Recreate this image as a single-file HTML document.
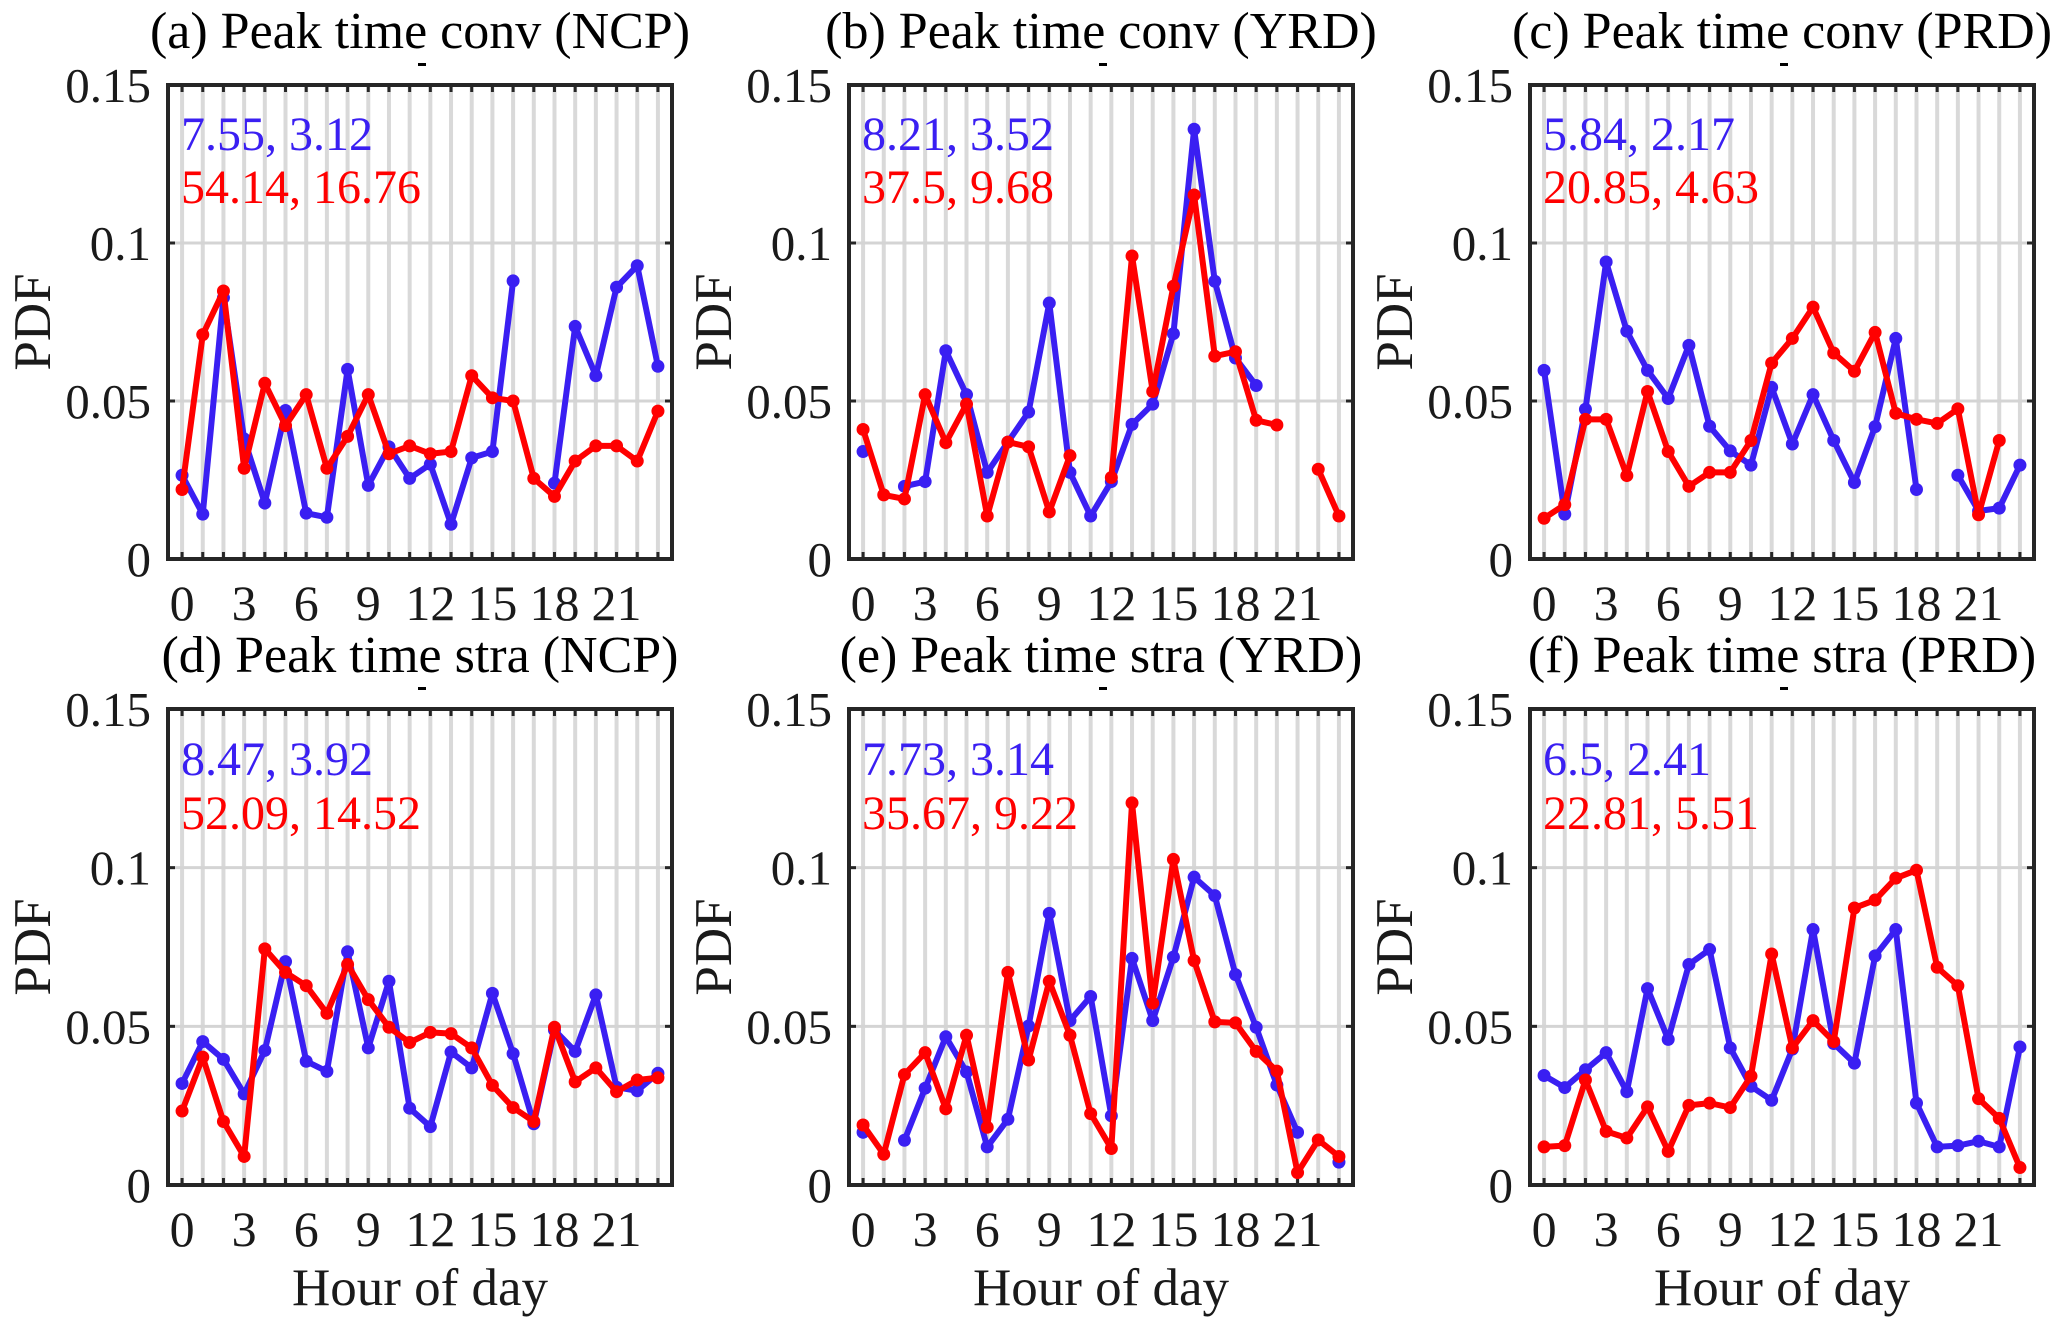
<!DOCTYPE html>
<html><head><meta charset="utf-8">
<style>
html,body{margin:0;padding:0;background:#fff;}
svg{display:block;font-family:"Liberation Serif","Times New Roman",serif;}
</style></head>
<body>
<svg id="fig" width="2067" height="1327" viewBox="0 0 2067 1327" xmlns="http://www.w3.org/2000/svg"></svg>
<script>
const hours = [0,1,2,3,4,5,6,7,8,9,10,11,12,13,14,15,16,17,18,19,20,21,22,23];
const xTickLabels = ["0","3","6","9","12","15","18","21"];
const yTickValues = [0,0.05,0.1,0.15];
const yTickLabels = ["0","0.05","0.1","0.15"];
const panelTitles = ["(a) Peak time conv (NCP)","(b) Peak time conv (YRD)","(c) Peak time conv (PRD)","(d) Peak time stra (NCP)","(e) Peak time stra (YRD)","(f) Peak time stra (PRD)"];
const blueStats = ["7.55, 3.12","8.21, 3.52","5.84, 2.17","8.47, 3.92","7.73, 3.14","6.5, 2.41"];
const redStats = ["54.14, 16.76","37.5, 9.68","20.85, 4.63","52.09, 14.52","35.67, 9.22","22.81, 5.51"];
const blueA = [0.0265,0.0142,0.0827,0.038,0.0177,0.047,0.0145,0.0132,0.060,0.0233,0.0355,0.0255,0.030,0.011,0.032,0.034,0.088,null,0.024,0.0736,0.058,0.086,0.0928,0.061];
const redA = [0.022,0.071,0.0848,0.0287,0.0556,0.0422,0.052,0.0287,0.0388,0.052,0.0333,0.0358,0.0333,0.034,0.058,0.051,0.050,0.0255,0.0198,0.031,0.0358,0.0358,0.031,0.0468];
const blueB = [0.034,null,0.023,0.0245,0.0659,0.052,0.0274,0.037,0.0465,0.081,0.0274,0.0136,0.0245,0.0426,0.049,0.0713,0.136,0.0879,0.0636,0.0549,null,null,null,null];
const redB = [0.041,0.0203,0.019,0.052,0.0368,0.049,0.0136,0.037,0.0355,0.0149,0.0327,null,0.0258,0.0959,0.053,0.0863,0.1152,0.0642,0.0656,0.0439,0.0424,null,0.0284,0.0136];
const blueC = [0.0597,0.0142,0.0474,0.094,0.0721,0.0597,0.0508,0.0676,0.042,0.0342,0.0297,0.0543,0.0364,0.052,0.0375,0.0242,0.0419,0.0698,0.022,null,0.0265,0.0152,0.0161,0.0297];
const redC = [0.0129,0.0172,0.0442,0.0442,0.0264,0.053,0.034,0.023,0.0274,0.0274,0.0375,0.062,0.0698,0.0797,0.0652,0.0594,0.0717,0.0461,0.0442,0.0429,0.0475,0.014,0.0375,null];
const blueD = [0.032,0.0452,0.0396,0.0287,0.0424,0.0704,0.039,0.0358,0.0735,0.0432,0.0642,0.0242,0.0184,0.0419,0.0369,0.0604,0.0414,0.0193,0.0488,0.0421,0.0599,0.0308,0.0297,0.0352];
const redD = [0.0233,0.0403,0.020,0.009,0.0744,0.067,0.0628,0.0541,0.0695,0.0584,0.0497,0.0449,0.0481,0.0477,0.0432,0.0314,0.0244,0.020,0.0497,0.0325,0.0369,0.0294,0.0331,0.0338];
const blueE = [0.0166,null,0.0141,0.0305,0.0467,0.0356,0.012,0.0207,0.0501,0.0856,0.0518,0.0594,0.0218,0.0714,0.0518,0.0718,0.097,0.0912,0.0663,0.0497,0.0315,0.0166,null,0.0072];
const redE = [0.0189,0.0097,0.0348,0.0417,0.024,0.0472,0.0182,0.067,0.0394,0.0642,0.0472,0.0225,0.0115,0.1204,0.0573,0.1026,0.0707,0.0514,0.0511,0.0421,0.0359,0.0039,0.0142,0.009];
const blueF = [0.0345,0.0307,0.0363,0.0417,0.0294,0.0619,0.0459,0.0695,0.0742,0.0432,0.0311,0.0267,0.0428,0.0805,0.0446,0.0384,0.0722,0.0805,0.0258,0.012,0.0124,0.0138,0.012,0.0435];
const redF = [0.012,0.0124,0.0331,0.0169,0.0148,0.0246,0.0106,0.0251,0.0258,0.0244,0.0343,0.0728,0.0432,0.0518,0.0452,0.0873,0.0898,0.0967,0.0992,0.0686,0.0628,0.0272,0.021,0.0055];

const NS = "http://www.w3.org/2000/svg";
const svg = document.getElementById("fig");
function mk(tag, attrs, parent){
  const e = document.createElementNS(NS, tag);
  for (const k in attrs) e.setAttribute(k, attrs[k]);
  (parent||svg).appendChild(e);
  return e;
}
const BLUE = "#3a1ff2", RED = "#ff0000";
const colLeft = [168, 849, 1530];
const rowTop = [85, 709];
const rowH = [474, 476];
const W = 504;
const XMIN = -0.68, XMAX = 23.68, YMAX = 0.15;
const panels = [[blueA,redA],[blueB,redB],[blueC,redC],[blueD,redD],[blueE,redE],[blueF,redF]];
const letters = ["a","b","c","d","e","f"];

panels.forEach((series, i) => {
  const r = Math.floor(i/3), c = i%3;
  const L = colLeft[c], T = rowTop[r], H = rowH[r];
  const xs = h => L + (h - XMIN) / (XMAX - XMIN) * W;
  const ys = v => T + H - v / YMAX * H;
  const g = mk("g", {});
  
  
  hours.forEach(h => {
    const ln = mk("line", {x1:xs(h), x2:xs(h), y1:T, y2:T+H, stroke:"#d9d9d9", "stroke-width":4}, g);
    
    
  });
  yTickValues.slice(1,3).forEach(v => {
    const ln = mk("line", {x1:L, x2:L+W, y1:ys(v), y2:ys(v), stroke:"#d4d4d4", "stroke-width":3}, g);
    
    
  });
  hours.forEach(h => {
    mk("line", {x1:xs(h), x2:xs(h), y1:T+H, y2:T+H-7, stroke:"#262626", "stroke-width":3}, g);
    mk("line", {x1:xs(h), x2:xs(h), y1:T, y2:T+7, stroke:"#262626", "stroke-width":3}, g);
  });
  yTickValues.forEach((v, k) => {
    mk("line", {x1:L, x2:L+7, y1:ys(v), y2:ys(v), stroke:"#262626", "stroke-width":3}, g);
    mk("line", {x1:L+W, x2:L+W-7, y1:ys(v), y2:ys(v), stroke:"#262626", "stroke-width":3}, g);
    const t = mk("text", {x:L-17, y:ys(v)+17, "text-anchor":"end", "font-size":49, fill:"#1a1a1a"}, g);
    t.textContent = yTickLabels[k];
    
    
  });
  xTickLabels.forEach(lab => {
    const t = mk("text", {x:xs(+lab), y:T+H+61, "text-anchor":"middle", "font-size":50, fill:"#1a1a1a"}, g);
    t.textContent = lab;
    
    
  });
  series.forEach((vals, s) => {
    const col = s === 0 ? BLUE : RED;
    let segs = [], cur = [];
    vals.forEach((v, h) => {
      if (v === null) { if (cur.length) segs.push(cur); cur = []; }
      else cur.push([xs(hours[h]), ys(v)]);
    });
    if (cur.length) segs.push(cur);
    segs.forEach(seg => {
      if (seg.length > 1) {
        const p = mk("polyline", {points: seg.map(q => q.join(",")).join(" "), fill:"none", stroke:col, "stroke-width":6, "stroke-linejoin":"round"}, g);
        
        
      }
    });
    vals.forEach((v, h) => {
      if (v === null) return;
      const m = mk("circle", {cx:xs(hours[h]), cy:ys(v), r:6.5, fill:col}, g);
      
      
    });
  });
  const box = mk("rect", {x:L, y:T, width:W, height:H, fill:"none", stroke:"#262626", "stroke-width":4}, g);
  
  
  const tb = mk("text", {x:L+13, y:T + (r===0?65:66), "font-size":48, fill:BLUE}, g);
  tb.textContent = blueStats[i];
  
  
  const tr = mk("text", {x:L+13, y:T + (r===0?118:120), "font-size":48, fill:RED}, g);
  tr.textContent = redStats[i];
  
  
  const tt = mk("text", {x:L+W/2, y:T-37, "text-anchor":"middle", "font-size":52, fill:"#000"}, g);
  tt.textContent = panelTitles[i];
  
  
  mk("rect", {x:L+W/2 - 2, y:T-22, width:8, height:3, fill:"#000"}, g);
  const yl = mk("text", {x:0, y:0, "text-anchor":"middle", "font-size":53, fill:"#1a1a1a", transform:"translate("+(L-118)+","+(T+H/2)+") rotate(-90)"}, g);
  yl.textContent = "PDF";
  
  
  if (r === 1) {
    const xl = mk("text", {x:L+W/2, y:T+H+120, "text-anchor":"middle", "font-size":53, fill:"#1a1a1a"}, g);
    xl.textContent = "Hour of day";
    
    
  }
});
</script>
</body></html>
